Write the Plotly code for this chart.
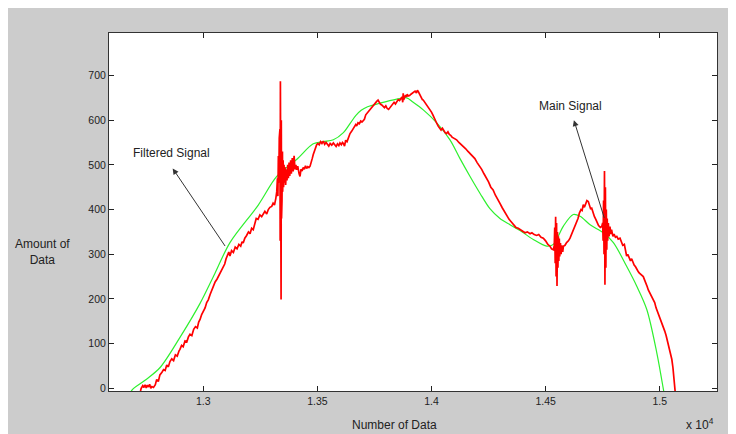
import plotly.graph_objects as go

# ---- data ----
red_x = [12725, 12728, 12735, 12740, 12745, 12750, 12755, 12760, 12765, 12770, 12775, 12782,
         12790, 12796, 12803, 12810, 12819, 12826, 12833, 12840, 12847, 12854, 12862, 12870,
         12878, 12886, 12894, 12898, 12905, 12912, 12920, 12928, 12935, 12942, 12950, 12958,
         12966, 12974, 12980, 12986, 12993, 13000, 13008, 13015, 13022, 13030, 13038, 13045,
         13052, 13060, 13066, 13073, 13080, 13087, 13094, 13100, 13106, 13112, 13117, 13124,
         13132, 13140, 13148, 13156, 13164, 13170, 13175, 13182, 13190, 13198, 13205, 13212,
         13219, 13226, 13232, 13240, 13248, 13256, 13263, 13270, 13278, 13285, 13292, 13300,
         13306, 13312, 13318, 13322, 13325, 13327, 13329, 13331, 13333, 13334, 13336, 13337,
         13338, 13339, 13340, 13341, 13342, 13343, 13344, 13345, 13347, 13348, 13350, 13352,
         13354, 13356, 13358, 13361, 13364, 13367, 13370, 13373, 13376, 13379, 13383, 13386,
         13390, 13394, 13398, 13402, 13406, 13409, 13414, 13420, 13424, 13428, 13433, 13438,
         13443, 13448, 13453, 13458, 13463, 13468, 13474, 13478, 13482, 13486, 13490, 13494,
         13497, 13502, 13508, 13514, 13520, 13526, 13532, 13538, 13544, 13550, 13556, 13563,
         13570, 13576, 13582, 13588, 13594, 13599, 13605, 13610, 13614, 13619, 13624, 13630,
         13636, 13643, 13650, 13656, 13662, 13668, 13672, 13678, 13684, 13690, 13696, 13701,
         13706, 13712, 13718, 13724, 13730, 13736, 13742, 13748, 13754, 13760, 13766, 13771,
         13776, 13782, 13788, 13794, 13800, 13806, 13812, 13818, 13824, 13830, 13836, 13842,
         13848, 13854, 13860, 13866, 13871, 13874, 13876, 13878, 13882, 13886, 13890, 13894,
         13898, 13904, 13910, 13916, 13922, 13928, 13934, 13938, 13942, 13946, 13950, 13955,
         13960, 13964, 13968, 13972, 13978, 13984, 13990, 13995, 14000, 14006, 14012, 14018,
         14024, 14030, 14036, 14042, 14048, 14054, 14060, 14066, 14072, 14078, 14084, 14090,
         14096, 14104, 14110, 14120, 14130, 14140, 14150, 14160, 14170, 14180, 14190, 14200,
         14210, 14220, 14230, 14240, 14250, 14260, 14270, 14280, 14290, 14300, 14310, 14320,
         14330, 14340, 14350, 14360, 14370, 14380, 14390, 14400, 14410, 14420, 14432, 14440,
         14450, 14461, 14470, 14480, 14490, 14500, 14510, 14519, 14526, 14534, 14538, 14540,
         14542, 14544, 14546, 14548, 14550, 14552, 14554, 14556, 14558, 14560, 14562, 14565,
         14568, 14571, 14575, 14578, 14585, 14592, 14600, 14607, 14614, 14622, 14630, 14636,
         14642, 14648, 14655, 14660, 14665, 14670, 14676, 14681, 14687, 14692, 14697, 14702,
         14708, 14714, 14720, 14726, 14732, 14740, 14746, 14750, 14752, 14754, 14756, 14758,
         14760, 14762, 14764, 14766, 14768, 14770, 14772, 14775, 14778, 14782, 14786, 14789,
         14795, 14800, 14806, 14812, 14818, 14826, 14832, 14838, 14845, 14850, 14855, 14860,
         14866, 14872, 14877, 14882, 14888, 14894, 14899, 14905, 14910, 14916, 14922, 14928,
         14934, 14940, 14945, 14950, 14956, 14962, 14968, 14972, 14978, 14984, 14990, 14996,
         15001, 15008, 15015, 15022, 15028, 15034, 15040, 15046, 15053, 15058, 15063, 15067,
         15070]
red_y = [-6, 0, 6, 2, 8, 1, 7, 3, 9, 0, 4, 2,
         8, 20, 15, 30, 36, 42, 40, 52, 48, 60, 66, 62,
         75, 72, 84, 87, 96, 93, 106, 104, 115, 121, 118, 132,
         138, 135, 148, 154, 165, 172, 180, 192, 198, 210, 222, 228,
         238, 244, 250, 255, 262, 270, 278, 290, 296, 305, 296, 308,
         304, 316, 312, 322, 318, 328, 325, 336, 342, 350, 346, 358,
         355, 372, 380, 378, 388, 384, 392, 396, 390, 400, 405, 407,
         414, 410, 425, 440, 470, 430, 520, 460, 560, 400, 580, 330,
         687, 300, 520, 199, 600, 380, 550, 420, 530, 440, 510, 450,
         500, 460, 495, 455, 490, 465, 500, 470, 505, 475, 510, 480,
         515, 485, 520, 490, 500, 489, 497, 480, 474, 490, 486, 494,
         490, 498, 492, 496, 494, 497, 505, 515, 523, 530, 532, 540,
         545, 548, 545, 552, 548, 553, 546, 550, 545, 542, 548, 544,
         549, 545, 541, 547, 543, 549, 545, 550, 548, 542, 555, 552,
         562, 570, 575, 580, 584, 590, 587, 594, 592, 598, 596, 600,
         602, 612, 616, 620, 622, 628, 632, 636, 638, 642, 645, 640,
         636, 634, 630, 628, 632, 626, 624, 628, 634, 638, 640, 636,
         642, 646, 644, 648, 652, 640, 660, 645, 650, 656, 652, 658,
         654, 655, 658, 660, 663, 665, 661, 667, 664, 660, 655, 652,
         646, 645, 642, 640, 636, 632, 628, 624, 618, 612, 604, 600,
         592, 586, 582, 578, 582, 576, 572, 570, 574, 568, 566, 562,
         560, 556, 556, 550, 546, 540, 536, 530, 524, 518, 514, 505,
         498, 490, 480, 472, 462, 450, 444, 432, 424, 414, 404, 395,
         386, 378, 372, 366, 360, 358, 354, 352, 348, 350, 346, 348,
         344, 342, 344, 338, 336, 330, 322, 318, 312, 310, 320, 360,
         280, 384, 250, 370, 229, 350, 270, 340, 285, 335, 295, 325,
         300, 320, 305, 318, 320, 326, 330, 336, 345, 352, 362, 370,
         380, 392, 400, 398, 411, 405, 415, 420, 418, 410, 402, 403,
         392, 384, 378, 370, 364, 360, 362, 370, 330, 420, 300, 486,
         232, 450, 270, 400, 310, 380, 330, 370, 340, 362, 345, 355,
         340, 345, 338, 340, 334, 336, 328, 320, 322, 310, 296, 300,
         292, 285, 290, 282, 276, 272, 266, 262, 258, 255, 252, 250,
         242, 236, 228, 220, 214, 210, 205, 200, 192, 180, 172, 166,
         160, 148, 138, 128, 118, 106, 92, 80, 65, 46, 22, -2,
         -20]

green_x = [12680, 12686, 12745, 12810, 12898, 12986, 13051, 13117, 13241, 13322, 13409,
           13482, 13526, 13570, 13614, 13640, 13668, 13692, 13720, 13774, 13848, 13891,
           13920, 13964, 14023, 14081, 14125, 14169, 14213, 14256, 14300, 14344, 14388,
           14446, 14505, 14534, 14578, 14621, 14651, 14695, 14753, 14797, 14855, 14899,
           14943, 14987, 15016, 15022]
green_y = [-18, -5, 18, 46, 114, 190, 257, 326, 410, 474, 512,
           547, 552, 556, 572, 590, 610, 622, 630, 638, 647, 650,
           640, 623, 594, 556, 514, 474, 436, 402, 380, 366, 353,
           333, 318, 322, 363, 389, 385, 366, 348, 326, 273, 229,
           177, 80, -2, -20]

x_ticks = [13000, 13500, 14000, 14500, 15000]
x_tick_labels = ["1.3", "1.35", "1.4", "1.45", "1.5"]
y_ticks = [0, 100, 200, 300, 400, 500, 600, 700]

fig = go.Figure()
fig.add_trace(go.Scatter(x=green_x, y=green_y, mode="lines",
                         line=dict(color="#2ef02e", width=1.2, shape="spline", smoothing=0.9),
                         hoverinfo="skip"))
fig.add_trace(go.Scatter(x=red_x, y=red_y, mode="lines",
                         line=dict(color="#ff0000", width=1.7),
                         hoverinfo="skip"))

tick_font = dict(family="Liberation Sans, Arial, sans-serif", size=10.5, color="#222222")
font = dict(family="Liberation Sans, Arial, sans-serif", size=12, color="#222222")

anns = [
    dict(x=12866, y=492, ax=13100, ay=315, xref="x", yref="y", axref="x", ayref="y",
         text="", showarrow=True, arrowhead=2, arrowsize=1.2, arrowwidth=1, arrowcolor="#333333"),
    dict(x=12863, y=527, xref="x", yref="y", text="Filtered Signal", showarrow=False, font=font,
         xanchor="center", yanchor="middle"),
    dict(x=14624, y=600, ax=14759, ay=378, xref="x", yref="y", axref="x", ayref="y",
         text="", showarrow=True, arrowhead=2, arrowsize=1.2, arrowwidth=1, arrowcolor="#333333"),
    dict(x=14607, y=631, xref="x", yref="y", text="Main Signal", showarrow=False, font=font,
         xanchor="center", yanchor="middle"),
    dict(x=-0.110, y=0.387, xref="paper", yref="paper", text="Amount of<br>Data",
         showarrow=False, font=font, align="center", xanchor="center", yanchor="middle"),
    dict(x=0.470, y=-0.095, xref="paper", yref="paper", text="Number of Data",
         showarrow=False, font=font, xanchor="center", yanchor="middle"),
    dict(x=0.972, y=-0.092, xref="paper", yref="paper", text="x 10<sup>4</sup>",
         showarrow=False, font=font, xanchor="center", yanchor="middle"),
]

fig.update_layout(
    width=736, height=434,
    margin=dict(l=101, r=27, t=25, b=51),
    paper_bgcolor="#cccccc", plot_bgcolor="#ffffff",
    showlegend=False,
    font=font,
    annotations=anns,
    xaxis=dict(range=[12587, 15251], tickvals=x_ticks, ticktext=x_tick_labels, tickfont=tick_font,
               ticks="inside", ticklen=5, tickcolor="#222222", showgrid=False,
               zeroline=False, showline=True, linecolor="#333333", linewidth=1, mirror="ticks"),
    yaxis=dict(range=[-6, 795], tickvals=y_ticks, tickfont=tick_font,
               ticks="inside", ticklen=5, tickcolor="#222222", showgrid=False,
               zeroline=False, showline=True, linecolor="#333333", linewidth=1, mirror="ticks"),
)

fig.write_html("out.html")
